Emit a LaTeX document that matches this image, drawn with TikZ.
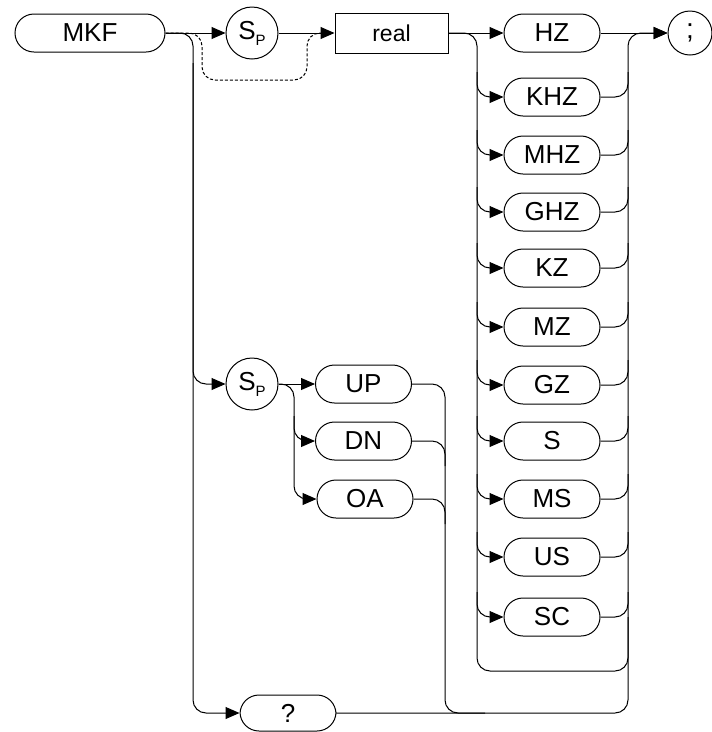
\documentclass[tikz,border=0pt]{standalone}
\usepackage{fontspec}
\setmainfont{Liberation Sans}
\usetikzlibrary{arrows.meta,calc}
\newcommand{\kwfont}{\fontsize{26}{30}\selectfont}
\newcommand{\spsym}{S\raisebox{-6pt}{\fontsize{15}{15}\selectfont P}}

\begin{document}
\begin{tikzpicture}[x=1pt,y=-1pt,line width=1pt,
  kw/.style={draw,rounded corners=19pt,minimum width=96pt,minimum height=38pt,inner sep=0pt,font=\kwfont},
  sep/.style={draw,circle,minimum size=52pt,inner sep=0pt,font=\kwfont},
  conn/.style={rounded corners=13pt,-{Triangle[length=14pt,width=12pt]}},
  bus/.style={rounded corners=13pt}]
\useasboundingbox (0,0) rectangle (712,732);

% keywords
\node[kw,minimum width=150pt] (mkf) at (90,33) {MKF};
\node[sep] (sp1) at (252,33) {\spsym};
\node[draw,minimum width=113pt,minimum height=40pt,font=\fontsize{23}{27}\selectfont] (real) at (391.5,33) {real};
\node[draw,circle,minimum size=44pt,inner sep=0pt,font=\fontsize{28}{30}\selectfont] (semi) at (690,33) {;};
\foreach \n/\y in {HZ/33,KHZ/97,MHZ/155,GHZ/212,KZ/268,MZ/327,GZ/385,S/441,MS/499,US/557,SC/617}
  \node[kw] (\n) at (552,\y) {\n};
\node[sep] (sp2) at (252,384) {\spsym};
\node[kw] (up) at (363.5,384) {UP};
\node[kw] (dn) at (363.5,441) {DN};
\node[kw] (oa) at (365,499) {OA};
\node[kw,minimum height=36pt] (q) at (288,713) {?};

% bus lines
\coordinate (trunk) at (193,0);
\coordinate (opt) at (294,0);
\coordinate (join) at (445,0);
\coordinate (uin) at (477,0);
\coordinate (uout) at (628,0);
\coordinate (ubot) at (477,671);
\coordinate (skipa) at (202,80);
\coordinate (skipb) at (307,80);

\draw[conn] (mkf) -- (sp1);
\draw[conn] (sp1) -- (real);
\draw[bus,dash pattern=on 3pt off 2pt] (mkf.east) -| (skipa) -| (skipb |- real.west) -- ++(16,0);
\draw[conn] (mkf.east) -| (trunk |- q.west) -- (q.west);
\draw[conn] (trunk |- mkf.east) ++(0,30) |- (sp2.west);
\draw[conn] (sp2) -- (up);
\draw[conn] (sp2.east) -| (opt |- oa.west) -- (oa.west);
\draw[conn] ($(opt |- dn.west)+(0,-25)$) |- (dn.west);
\draw[bus] (up.east) -| (join |- q.east) -- ++(40,0);
\draw[bus] (dn.east) -| ($(join |- dn.east)+(0,25)$);
\draw[bus] (oa.east) -| ($(join |- oa.east)+(0,25)$);
\draw[bus] (q.east) -| (uout |- SC.east);

% units
\draw[conn] (real) -- (HZ);
\draw[conn] (HZ) -- (semi);
\draw[conn] (real.east) -| (ubot) -| (uout |- semi.west) -- (semi.west);
\foreach \n in {KHZ,MHZ,GHZ,KZ,MZ,GZ,S,MS,US,SC}{
  \draw[conn] ($(uin |- \n.west)+(0,-25)$) |- (\n.west);
  \draw[bus] (\n.east) -| ($(uout |- \n.east)+(0,-25)$);
}
\end{tikzpicture}
\end{document}
